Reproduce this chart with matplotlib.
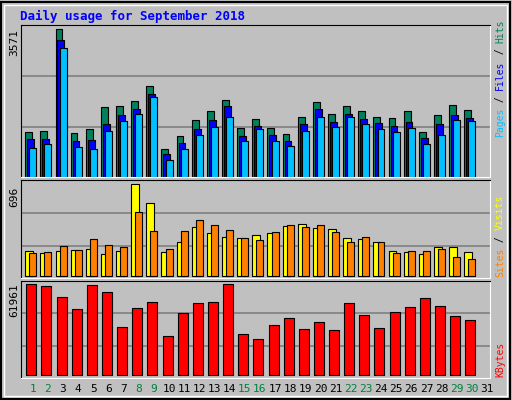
import matplotlib
matplotlib.use("Agg")
import matplotlib.pyplot as plt
from matplotlib.patches import Rectangle

days = list(range(1, 32))
hits = [1099,1123,3571,1075,1172,1681,1705,1826,2190,687,1002,1390,1584,1850,1196,1414,1196,1050,1462,1802,1535,1705,1584,1462,1438,1584,1099,1487,1729,1608]
files = [929,929,3305,881,905,1293,1511,1632,1996,566,832,1172,1390,1705,1002,1244,1026,881,1293,1632,1341,1535,1414,1317,1244,1341,953,1293,1511,1438]
pages = [711,808,3111,735,687,1123,1365,1535,1923,420,687,1026,1220,1462,881,1172,881,760,1123,1462,1220,1462,1293,1172,1099,1196,808,1026,1390,1365]
visits = [189,174,189,197,204,166,189,696,552,182,257,371,325,295,287,310,325,378,393,363,356,287,280,257,189,182,166,219,219,182]
sites = [174,182,227,197,280,235,219,484,340,204,340,424,386,348,287,272,333,386,371,386,333,257,295,257,174,189,189,204,144,129]
kbytes = [61961,60599,53109,44939,61280,56514,32683,45620,49705,26555,42216,49024,49705,61961,27917,24513,34044,38810,31321,36087,30640,49024,40854,32002,42897,46301,52428,46982,40173,37449]
weekend = [1,2,8,9,15,16,22,23,29,30]

W, H = 512, 400
fig = plt.figure(figsize=(W/100, H/100), dpi=100)
fig.patch.set_facecolor("#C0C0C0")
fig.patches.append(Rectangle((1/W, 1/H), 1-3/W, 1-3/H, transform=fig.transFigure, fill=False, ec="black", lw=1.5))
fig.patches.append(Rectangle((4/W, 4/H), 1-9/W, 1-9/H, transform=fig.transFigure, fill=False, ec="white", lw=1))

def ax_at(top, bottom, left=20.7, right=490):
    a = fig.add_axes([left/W, 1-bottom/H, (right-left)/W, (bottom-top)/H])
    a.set_facecolor("#C0C0C0")
    a.set_xlim(0, 31)
    a.set_xticks([]); a.set_yticks([])
    for s in ("left", "top"):
        a.spines[s].set_color("black")
    for s in ("right", "bottom"):
        a.spines[s].set_color("white")
    return a

mono = dict(family="DejaVu Sans Mono")
n = len(hits)
x0 = [d - 1 for d in days[:n]]

a1 = ax_at(25, 177)
a1.set_ylim(0, 3675)
for g in (1209, 2442):
    a1.axhline(g, color="#808080", lw=1.2, zorder=0)
a1.bar([x + 0.3 for x in x0], hits, width=0.45, align="edge", color="#00805C", ec="black", lw=0.8)
a1.bar([x + 0.43 for x in x0], files, width=0.45, align="edge", color="#0000FF", ec="black", lw=0.8)
a1.bar([x + 0.57 for x in x0], pages, width=0.46, align="edge", color="#00C0FF", ec="black", lw=0.8)

a2 = ax_at(180.3, 278)
a2.set_ylim(-13, 726)
for g in (229, 477):
    a2.axhline(g, color="#808080", lw=1.2, zorder=0)
a2.bar([x + 0.3 for x in x0], visits, width=0.52, align="edge", color="#FFFF00", ec="black", lw=0.8)
a2.bar([x + 0.57 for x in x0], sites, width=0.46, align="edge", color="#FF8000", ec="black", lw=0.8)

a3 = ax_at(281, 377.7)
a3.set_ylim(-1634, 64220)
for g in (19745, 42216):
    a3.axhline(g, color="#808080", lw=1.2, zorder=0)
a3.bar([x + 0.37 for x in x0], kbytes, width=0.66, align="edge", color="#FF0000", ec="black", lw=0.8)

fig.text(20/W, 1-16/H, "Daily usage for September 2018", color="#0000FF", fontsize=9, weight="bold", va="center", **mono)

for y, t in ((42, str(max(hits))), (197, str(max(visits))), (300, str(max(kbytes)))):
    fig.text(14/W, 1-y/H, t, rotation=90, ha="center", va="center", fontsize=8, **mono)

def vlegend(ybottom, parts):
    y = ybottom
    for txt, col in parts:
        fig.text(500/W, 1-y/H, txt, rotation=90, ha="center", va="bottom", color=col, fontsize=7, **mono)
        y -= len(txt) * 5.9
vlegend(137, [("Pages", "#00C0FF"), (" / ", "black"), ("Files", "#0000FF"), (" / ", "black"), ("Hits", "#00805C")])
vlegend(277, [("Sites", "#FF8000"), (" / ", "black"), ("Visits", "#FFFF00")])
vlegend(377, [("KBytes", "#FF0000")])

for d in days:
    xp = 20.7 + (d - 1 + 0.8) * (490 - 20.7) / 31
    fig.text(xp/W, 1-389/H, str(d), ha="center", va="center", fontsize=8,
             color="#008040" if d in weekend else "black", **mono)

fig.savefig("out.png", dpi=100, facecolor=fig.get_facecolor())
